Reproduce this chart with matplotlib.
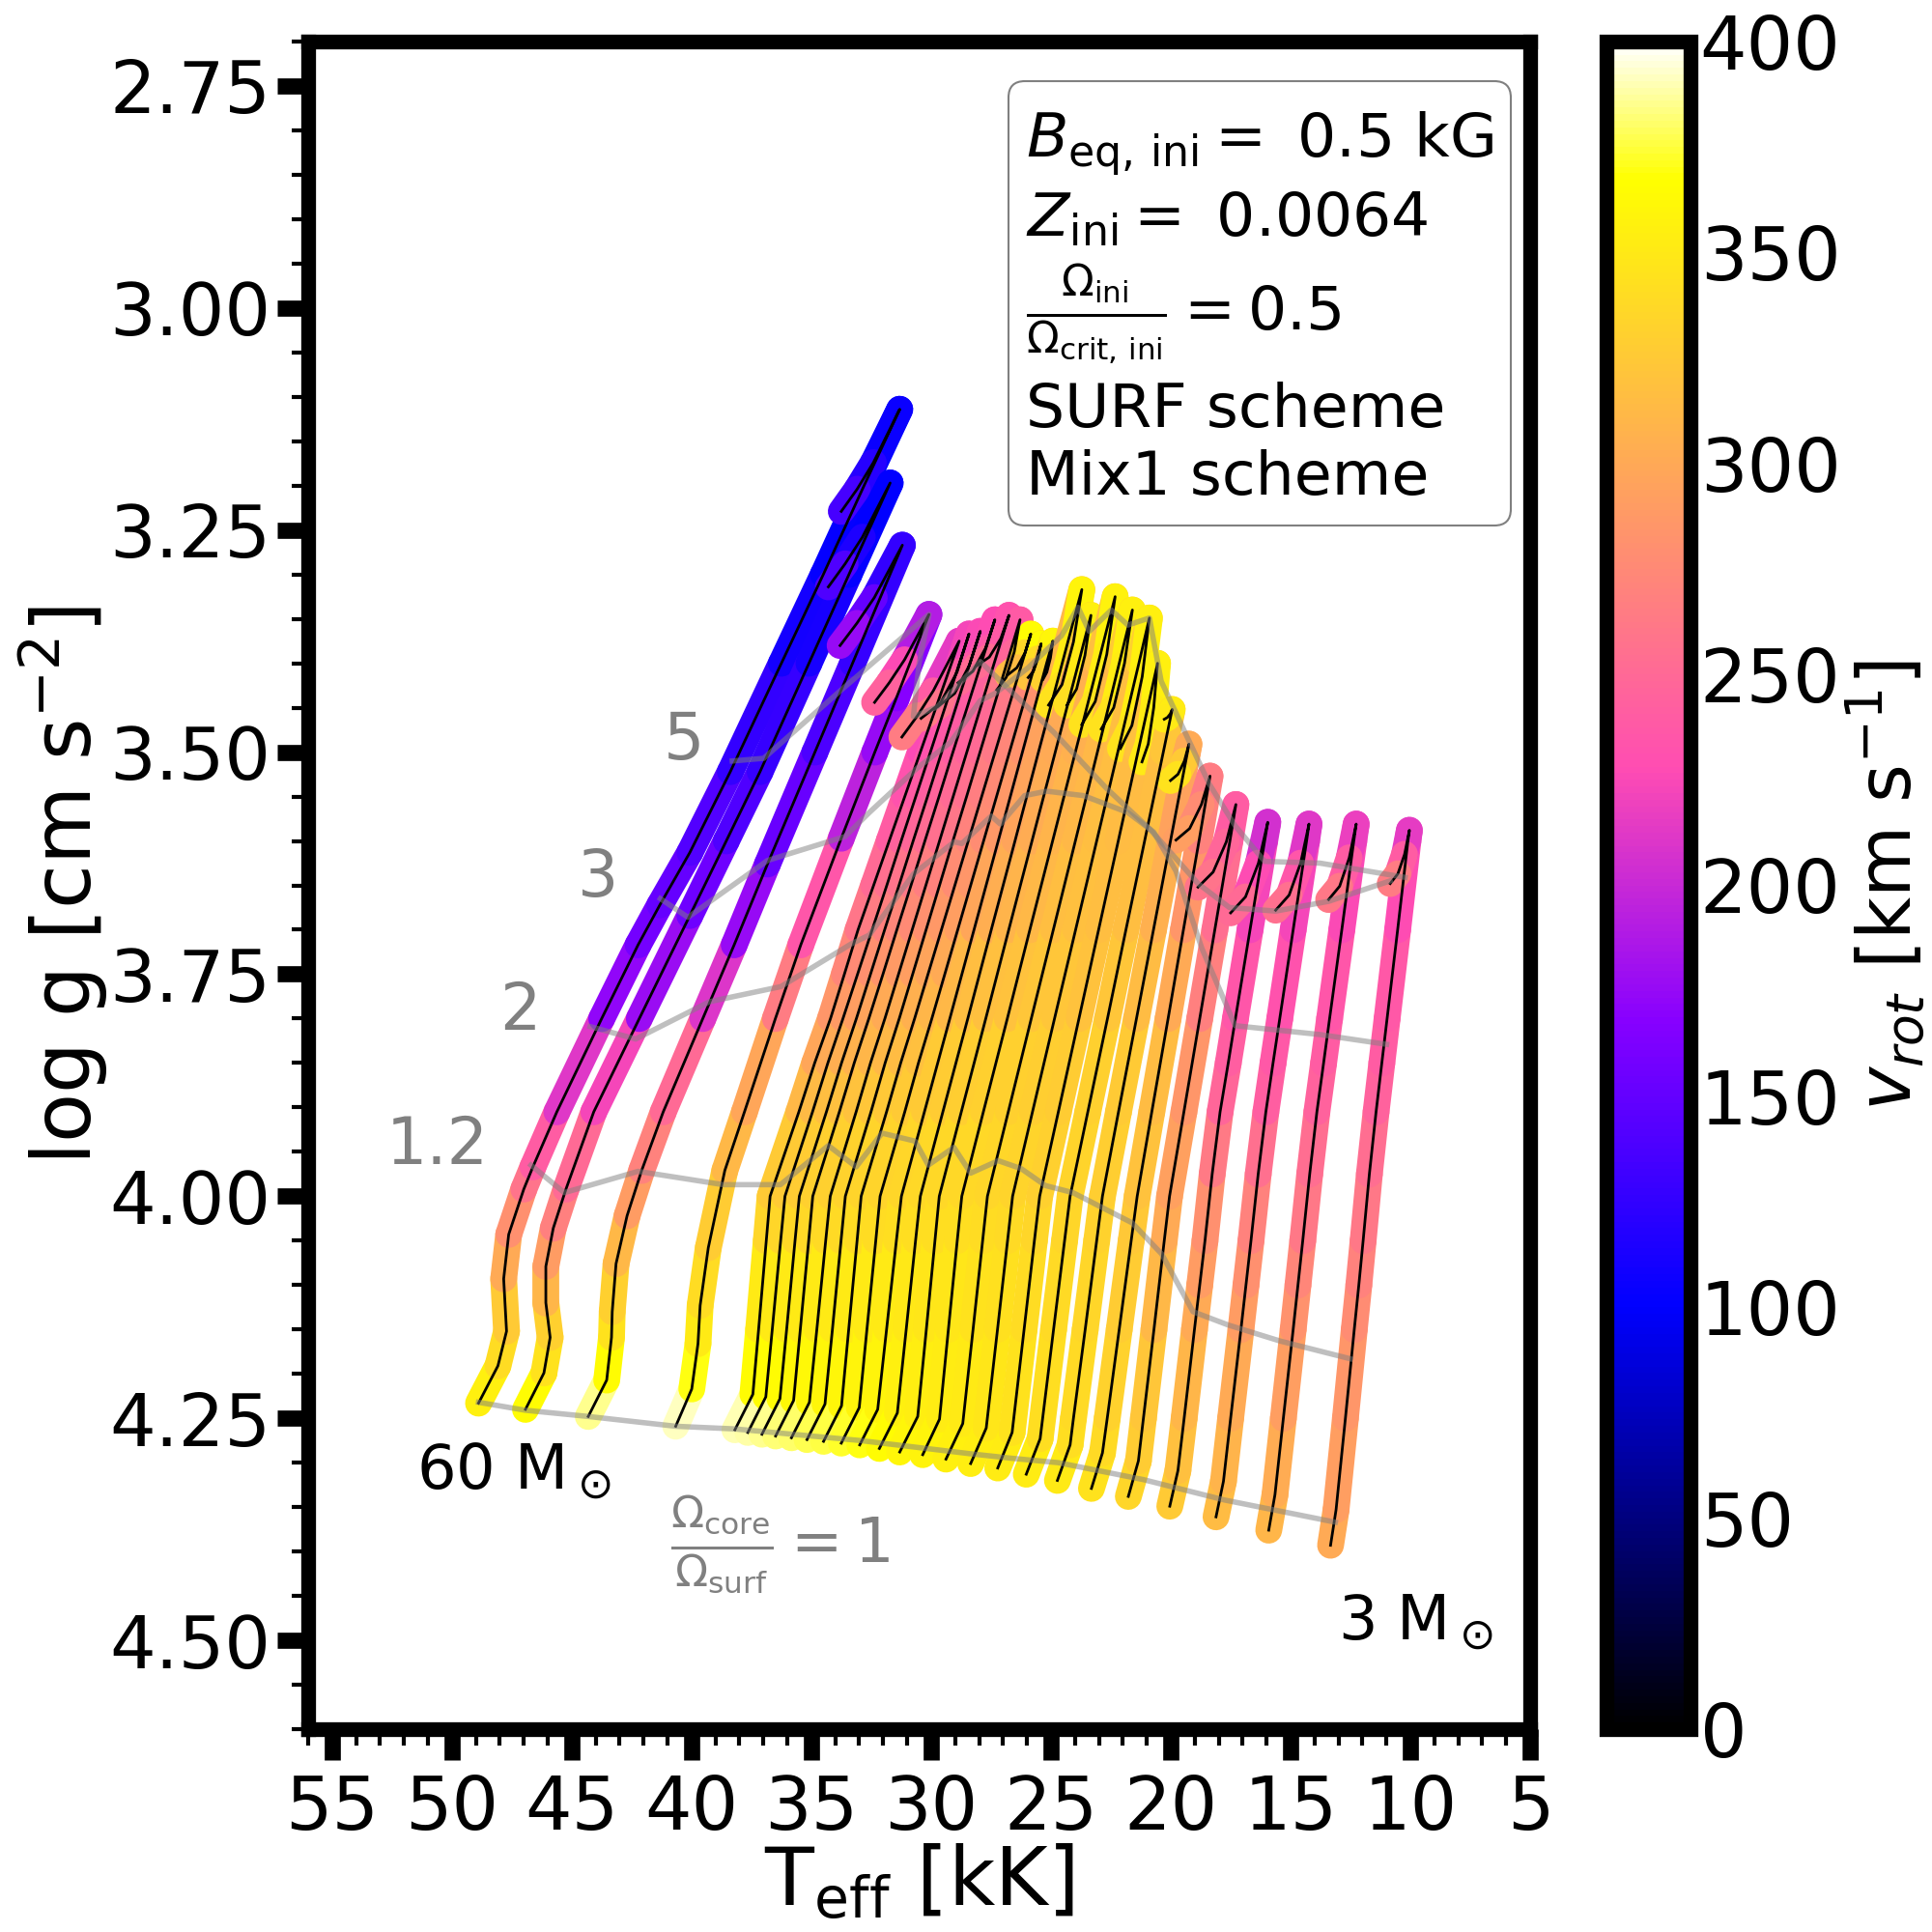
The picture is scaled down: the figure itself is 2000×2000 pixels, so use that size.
import matplotlib
matplotlib.use('Agg')
import matplotlib.pyplot as plt
from matplotlib.collections import LineCollection
from matplotlib.cm import ScalarMappable
from matplotlib.colors import Normalize
from matplotlib.patches import FancyBboxPatch
from matplotlib.ticker import MultipleLocator
import numpy as np

# evolutionary tracks, massive to light: Teff [kK], log g, v_rot [km/s]
# t1 - t4 were read point by point, the rest at fixed log g steps + hook
t1_T = [48.89, 48.08, 47.72, 47.84, 47.63, 47.00, 46.62, 45.62, 43.75, 42.23, 41.32, 40.07, 38.38, 36.25, 34.50, 32.80, 31.31, 32.41, 33.09, 33.75]
t1_g = [4.233, 4.191, 4.152, 4.093, 4.043, 3.992, 3.967, 3.905, 3.800, 3.717, 3.672, 3.613, 3.522, 3.400, 3.300, 3.200, 3.114, 3.174, 3.204, 3.229]
t1_v = [355, 340, 325, 300, 280, 258, 240, 212, 172, 158, 150, 142, 125, 110, 102, 100, 105, 120, 135, 150]
t2_T = [46.93, 46.16, 45.90, 46.08, 46.08, 45.77, 45.24, 44.08, 42.18, 40.07, 38.55, 37.14, 35.10, 33.43, 31.71, 32.87, 33.59, 34.29]
t2_g = [4.240, 4.199, 4.159, 4.120, 4.079, 4.036, 3.992, 3.905, 3.800, 3.684, 3.600, 3.522, 3.400, 3.300, 3.197, 3.258, 3.288, 3.314]
t2_v = [365, 345, 330, 310, 290, 268, 250, 222, 178, 155, 140, 128, 112, 102, 100, 115, 140, 165]
t3_T = [44.31, 43.54, 43.34, 43.31, 43.15, 42.69, 42.08, 41.18, 39.53, 38.22, 36.83, 34.85, 33.28, 31.20, 32.37, 33.10, 33.80]
t3_g = [4.248, 4.207, 4.159, 4.130, 4.076, 4.022, 3.971, 3.905, 3.800, 3.717, 3.626, 3.500, 3.400, 3.267, 3.326, 3.355, 3.380]
t3_v = [385, 365, 345, 330, 312, 290, 270, 250, 210, 175, 152, 138, 128, 125, 150, 175, 190]
t4_T = [40.66, 39.99, 39.73, 39.64, 39.30, 38.61, 37.79, 36.50, 35.44, 33.75, 32.35, 31.45, 30.09, 31.11, 31.75, 32.36]
t4_g = [4.259, 4.217, 4.166, 4.123, 4.058, 3.971, 3.905, 3.800, 3.717, 3.597, 3.500, 3.439, 3.345, 3.396, 3.422, 3.444]
t4_v = [392, 370, 350, 340, 328, 312, 298, 265, 235, 195, 175, 168, 190, 225, 245, 258]

t5_T = [38.19, 37.44, 37.20, 36.88, 36.72, 35.52, 34.86, 34.20, 33.62, 33.05, 32.40, 31.75, 31.10, 30.45, 29.15, 28.83, 29.91, 30.57, 31.22]
t5_g = [4.263, 4.223, 4.150, 4.050, 4.000, 3.905, 3.850, 3.800, 3.750, 3.700, 3.650, 3.600, 3.550, 3.500, 3.400, 3.375, 3.431, 3.459, 3.483]
t5_v = [390, 365, 350, 335, 325, 312, 298, 285, 272, 260, 250, 240, 232, 225, 222, 215, 240, 265, 290]
t6_T = [37.65, 36.90, 36.63, 36.28, 36.10, 34.95, 34.31, 33.68, 33.07, 32.46, 31.85, 31.25, 30.64, 30.03, 28.82, 28.42, 28.92, 29.62, 30.42]
t6_g = [4.266, 4.226, 4.150, 4.050, 4.000, 3.905, 3.850, 3.800, 3.750, 3.700, 3.650, 3.600, 3.550, 3.500, 3.400, 3.367, 3.410, 3.445, 3.462]
t6_v = [388, 365, 350, 335, 326, 314, 301, 288, 276, 265, 255, 245, 238, 232, 225, 222, 240, 265, 285]
t7_T = [37.06, 36.31, 36.03, 35.68, 35.50, 34.37, 33.74, 33.12, 32.53, 31.94, 31.34, 30.75, 30.15, 29.56, 28.38, 27.95, 28.40, 29.02, 29.73]
t7_g = [4.268, 4.228, 4.150, 4.050, 4.000, 3.905, 3.850, 3.800, 3.750, 3.700, 3.650, 3.600, 3.550, 3.500, 3.400, 3.364, 3.402, 3.434, 3.449]
t7_v = [385, 365, 350, 336, 328, 316, 304, 292, 280, 268, 258, 248, 242, 236, 228, 225, 238, 258, 275]
t8_T = [36.49, 35.74, 35.46, 35.11, 34.94, 33.83, 33.21, 32.60, 32.01, 31.43, 30.84, 30.26, 29.67, 29.09, 27.91, 27.34, 27.73, 28.26, 28.88]
t8_g = [4.270, 4.230, 4.150, 4.050, 4.000, 3.905, 3.850, 3.800, 3.750, 3.700, 3.650, 3.600, 3.550, 3.500, 3.400, 3.351, 3.383, 3.409, 3.422]
t8_v = [382, 362, 350, 337, 330, 318, 307, 296, 284, 272, 262, 252, 246, 240, 232, 228, 235, 250, 265]
t9_T = [35.83, 35.08, 34.77, 34.40, 34.21, 33.13, 32.53, 31.93, 31.36, 30.79, 30.22, 29.65, 29.08, 28.51, 27.37, 26.75, 27.09, 27.57, 28.11]
t9_g = [4.272, 4.232, 4.150, 4.050, 4.000, 3.905, 3.850, 3.800, 3.750, 3.700, 3.650, 3.600, 3.550, 3.500, 3.400, 3.346, 3.372, 3.393, 3.403]
t9_v = [380, 362, 350, 338, 331, 320, 310, 300, 288, 276, 266, 256, 250, 245, 236, 232, 238, 252, 265]
t10_T = [35.18, 34.43, 34.12, 33.76, 33.58, 32.51, 31.92, 31.33, 30.77, 30.21, 29.65, 29.09, 28.52, 27.96, 26.84, 26.29, 26.53, 26.87, 27.26]
t10_g = [4.274, 4.234, 4.150, 4.050, 4.000, 3.905, 3.850, 3.800, 3.750, 3.700, 3.650, 3.600, 3.550, 3.500, 3.400, 3.351, 3.387, 3.416, 3.430]
t10_v = [378, 360, 350, 338, 332, 322, 312, 302, 291, 280, 270, 260, 255, 250, 242, 238, 248, 262, 275]
t11_T = [34.49, 33.74, 33.44, 33.09, 32.92, 31.86, 31.27, 30.69, 30.13, 29.57, 29.01, 28.45, 27.89, 27.33, 26.21, 25.84, 26.08, 26.42, 26.80]
t11_g = [4.276, 4.236, 4.150, 4.050, 4.000, 3.905, 3.850, 3.800, 3.750, 3.700, 3.650, 3.600, 3.550, 3.500, 3.400, 3.367, 3.388, 3.405, 3.413]
t11_v = [375, 360, 350, 340, 333, 324, 315, 306, 296, 286, 278, 270, 266, 262, 285, 365, 335, 315, 300]
t12_T = [33.75, 33.00, 32.68, 32.31, 32.13, 31.10, 30.53, 29.97, 29.43, 28.89, 28.35, 27.81, 27.27, 26.73, 25.65, 25.41, 25.55, 25.73, 25.95]
t12_g = [4.278, 4.238, 4.150, 4.050, 4.000, 3.905, 3.850, 3.800, 3.750, 3.700, 3.650, 3.600, 3.550, 3.500, 3.400, 3.378, 3.395, 3.409, 3.416]
t12_v = [372, 358, 350, 340, 334, 325, 318, 310, 301, 292, 285, 278, 275, 272, 300, 365, 340, 320, 310]
t13_T = [32.98, 32.23, 31.86, 31.45, 31.24, 30.28, 29.22, 28.21, 27.20, 26.19, 25.18, 24.92, 25.02, 25.17, 25.33]
t13_g = [4.280, 4.240, 4.150, 4.050, 4.000, 3.905, 3.800, 3.700, 3.600, 3.500, 3.400, 3.375, 3.394, 3.410, 3.418]
t13_v = [370, 358, 350, 341, 335, 326, 312, 298, 286, 282, 310, 360, 345, 330, 320]
t14_T = [32.16, 31.41, 31.04, 30.65, 30.45, 29.51, 28.47, 27.49, 26.50, 25.52, 24.53, 23.71, 24.06, 24.54, 25.10]
t14_g = [4.284, 4.244, 4.150, 4.050, 4.000, 3.905, 3.800, 3.700, 3.600, 3.500, 3.400, 3.317, 3.376, 3.424, 3.447]
t14_v = [365, 356, 349, 342, 336, 328, 316, 304, 296, 294, 310, 358, 352, 345, 340]
t15_T = [31.31, 30.56, 30.20, 29.84, 29.66, 28.74, 27.72, 26.76, 25.79, 24.82, 23.85, 23.33, 23.58, 23.93, 24.33]
t15_g = [4.288, 4.248, 4.150, 4.050, 4.000, 3.905, 3.800, 3.700, 3.600, 3.500, 3.400, 3.346, 3.391, 3.429, 3.447]
t15_v = [360, 354, 348, 342, 336, 329, 318, 308, 302, 300, 315, 355, 350, 342, 335]
t16_T = [30.35, 29.65, 29.28, 28.91, 28.72, 27.82, 26.82, 25.88, 24.93, 23.98, 23.03, 22.32, 22.67, 23.15, 23.71]
t16_g = [4.291, 4.251, 4.150, 4.050, 4.000, 3.905, 3.800, 3.700, 3.600, 3.500, 3.400, 3.325, 3.390, 3.443, 3.469]
t16_v = [358, 352, 347, 341, 336, 330, 320, 312, 308, 306, 318, 357, 352, 345, 340]
t17_T = [29.38, 28.68, 28.25, 27.85, 27.65, 26.78, 25.82, 24.90, 23.98, 23.06, 22.15, 21.60, 21.93, 22.38, 22.90]
t17_g = [4.296, 4.256, 4.150, 4.050, 4.000, 3.905, 3.800, 3.700, 3.600, 3.500, 3.400, 3.340, 3.400, 3.450, 3.474]
t17_v = [356, 350, 345, 340, 335, 330, 322, 316, 312, 312, 325, 356, 352, 345, 340]
t18_T = [28.35, 27.70, 27.23, 26.81, 26.60, 25.77, 24.85, 23.97, 23.09, 22.21, 21.33, 20.89, 21.19, 21.62, 22.10]
t18_g = [4.301, 4.261, 4.150, 4.050, 4.000, 3.905, 3.800, 3.700, 3.600, 3.500, 3.400, 3.349, 3.415, 3.470, 3.496]
t18_v = [354, 348, 343, 338, 334, 329, 322, 318, 316, 316, 330, 355, 352, 345, 340]
t19_T = [27.22, 26.62, 26.12, 25.69, 25.47, 24.69, 23.83, 23.01, 22.19, 21.37, 20.55, 20.71, 20.94, 21.20]
t19_g = [4.306, 4.266, 4.150, 4.050, 4.000, 3.905, 3.800, 3.700, 3.600, 3.500, 3.400, 3.450, 3.491, 3.511]
t19_v = [352, 345, 340, 335, 331, 327, 320, 316, 315, 318, 355, 352, 350, 345]
t20_T = [26.03, 25.45, 24.89, 24.43, 24.20, 23.46, 22.64, 21.87, 21.09, 20.31, 19.94, 20.02, 20.14, 20.27]
t20_g = [4.313, 4.273, 4.150, 4.050, 4.000, 3.905, 3.800, 3.700, 3.600, 3.500, 3.452, 3.457, 3.461, 3.463]
t20_v = [352, 342, 338, 335, 333, 330, 322, 316, 316, 322, 352, 352, 350, 350]
t21_T = [24.73, 24.20, 24.06, 23.57, 23.09, 22.85, 22.18, 21.43, 20.72, 20.01, 19.30, 19.24, 19.43, 19.70, 20.01]
t21_g = [4.320, 4.280, 4.250, 4.150, 4.050, 4.000, 3.905, 3.800, 3.700, 3.600, 3.500, 3.491, 3.510, 3.525, 3.532]
t21_v = [350, 342, 338, 335, 332, 329, 325, 315, 305, 295, 295, 300, 325, 345, 352]
t22_T = [23.31, 22.85, 22.65, 22.15, 21.65, 21.40, 20.79, 20.11, 19.47, 18.82, 18.36, 18.72, 19.21, 19.78]
t22_g = [4.329, 4.289, 4.250, 4.150, 4.050, 4.000, 3.905, 3.800, 3.700, 3.600, 3.527, 3.559, 3.586, 3.599]
t22_v = [345, 338, 332, 328, 324, 320, 315, 300, 285, 270, 265, 278, 292, 305]
t23_T = [21.77, 21.35, 21.14, 20.70, 20.27, 20.05, 19.45, 18.79, 18.16, 17.53, 17.28, 17.68, 18.23, 18.86]
t23_g = [4.338, 4.298, 4.250, 4.150, 4.050, 4.000, 3.905, 3.800, 3.700, 3.600, 3.559, 3.601, 3.635, 3.652]
t23_v = [335, 328, 322, 312, 300, 293, 285, 268, 254, 242, 240, 248, 258, 265]
t24_T = [20.04, 19.70, 19.44, 19.01, 18.79, 18.57, 18.27, 17.94, 17.60, 17.30, 16.69, 16.08, 15.95, 16.34, 16.88, 17.50]
t24_g = [4.349, 4.309, 4.250, 4.150, 4.100, 4.050, 3.975, 3.905, 3.850, 3.800, 3.700, 3.600, 3.579, 3.625, 3.663, 3.681]
t24_v = [325, 318, 310, 300, 290, 280, 264, 248, 241, 235, 222, 208, 205, 228, 250, 265]
t25_T = [18.11, 17.80, 17.50, 17.07, 16.86, 16.65, 16.35, 16.03, 15.73, 15.45, 14.89, 14.33, 14.23, 14.58, 15.06, 15.62]
t25_g = [4.361, 4.321, 4.250, 4.150, 4.100, 4.050, 3.975, 3.905, 3.850, 3.800, 3.700, 3.600, 3.581, 3.625, 3.661, 3.678]
t25_v = [315, 308, 300, 290, 280, 270, 256, 242, 237, 232, 222, 212, 212, 235, 255, 268]
t26_T = [15.91, 15.65, 15.30, 14.89, 14.69, 14.49, 14.20, 13.90, 13.62, 13.37, 12.86, 12.36, 12.26, 12.55, 12.95, 13.41]
t26_g = [4.376, 4.336, 4.250, 4.150, 4.100, 4.050, 3.975, 3.905, 3.850, 3.800, 3.700, 3.600, 3.581, 3.619, 3.651, 3.666]
t26_v = [310, 302, 292, 282, 272, 262, 254, 245, 240, 235, 225, 218, 218, 240, 262, 278]
t27_T = [13.33, 13.10, 12.71, 12.34, 12.15, 11.97, 11.71, 11.43, 11.19, 10.97, 10.53, 10.10, 10.04, 10.24, 10.52, 10.84]
t27_g = [4.393, 4.353, 4.250, 4.150, 4.100, 4.050, 3.975, 3.905, 3.850, 3.800, 3.700, 3.600, 3.588, 3.615, 3.637, 3.648]
t27_v = [300, 292, 285, 278, 270, 262, 254, 245, 240, 236, 228, 216, 215, 240, 265, 288]

tracks = [(t1_T, t1_g, t1_v), (t2_T, t2_g, t2_v), (t3_T, t3_g, t3_v), (t4_T, t4_g, t4_v),
          (t5_T, t5_g, t5_v), (t6_T, t6_g, t6_v), (t7_T, t7_g, t7_v), (t8_T, t8_g, t8_v),
          (t9_T, t9_g, t9_v), (t10_T, t10_g, t10_v), (t11_T, t11_g, t11_v), (t12_T, t12_g, t12_v),
          (t13_T, t13_g, t13_v), (t14_T, t14_g, t14_v), (t15_T, t15_g, t15_v), (t16_T, t16_g, t16_v),
          (t17_T, t17_g, t17_v), (t18_T, t18_g, t18_v), (t19_T, t19_g, t19_v), (t20_T, t20_g, t20_v),
          (t21_T, t21_g, t21_v), (t22_T, t22_g, t22_v), (t23_T, t23_g, t23_v), (t24_T, t24_g, t24_v),
          (t25_T, t25_g, t25_v), (t26_T, t26_g, t26_v), (t27_T, t27_g, t27_v)]

# lines of constant Omega_core / Omega_surf
ratio1_T = [48.89, 46.93, 44.30, 40.66, 38.19, 32.98, 28.35, 26.65, 24.69, 21.15, 17.76, 13.13]
ratio1_g = [4.232, 4.241, 4.248, 4.259, 4.262, 4.275, 4.290, 4.295, 4.300, 4.319, 4.342, 4.367]
ratio12_T = [46.70, 45.31, 42.23, 38.68, 36.29, 34.29, 33.13, 32.05, 30.67, 30.12, 29.05, 28.35, 27.20, 26.24, 25.23, 24.08, 21.61, 20.38, 19.07, 17.60, 15.44, 12.51]
ratio12_g = [3.965, 3.996, 3.972, 3.987, 3.987, 3.943, 3.967, 3.929, 3.938, 3.965, 3.945, 3.974, 3.960, 3.969, 3.988, 3.996, 4.030, 4.065, 4.130, 4.145, 4.163, 4.183]
ratio2_T = [44.23, 42.33, 39.25, 36.27, 33.34, 32.58, 30.73, 29.03, 28.72, 27.49, 27.11, 26.10, 25.18, 23.64, 21.79, 20.71, 19.78, 18.70, 17.31, 13.77, 10.99]
ratio2_g = [3.809, 3.823, 3.781, 3.764, 3.716, 3.706, 3.637, 3.601, 3.603, 3.572, 3.581, 3.549, 3.544, 3.549, 3.568, 3.590, 3.634, 3.721, 3.808, 3.818, 3.829]
ratio3_T = [41.30, 40.15, 36.83, 33.59, 32.58, 30.58, 29.19, 27.95, 27.34, 25.95, 24.56, 23.87, 23.40, 22.48, 21.79, 20.89, 20.40, 19.47, 18.39, 17.31, 16.08, 13.77, 10.22]
ratio3_g = [3.665, 3.686, 3.622, 3.595, 3.568, 3.518, 3.489, 3.442, 3.434, 3.405, 3.369, 3.337, 3.364, 3.340, 3.357, 3.349, 3.420, 3.474, 3.536, 3.583, 3.623, 3.625, 3.641]
ratio5_T = [38.30, 36.99, 33.75, 30.09, 30.51, 30.74, 29.74, 28.04, 27.95, 24.87, 22.71, 20.86, 18.86, 17.55, 15.62, 13.41, 10.84]
ratio5_g = [3.510, 3.507, 3.430, 3.345, 3.401, 3.460, 3.449, 3.401, 3.398, 3.478, 3.540, 3.587, 3.648, 3.675, 3.679, 3.668, 3.645]

x_ticks = [55, 50, 45, 40, 35, 30, 25, 20, 15, 10, 5]
y_ticks = [2.75, 3.00, 3.25, 3.50, 3.75, 4.00, 4.25, 4.50]
cbar_ticks = [0, 50, 100, 150, 200, 250, 300, 350, 400]

plt.rcParams['font.family'] = 'DejaVu Sans'
plt.rcParams['mathtext.default'] = 'regular'

fig = plt.figure(figsize=(20, 20), dpi=100)
ax = fig.add_axes([319 / 2000, 210 / 2000, 1265 / 2000, 1747 / 2000])

norm = Normalize(0, 400)
for T, g, v in tracks:
    pts = np.column_stack([T, g])
    segs = np.stack([pts[:-1], pts[1:]], axis=1)
    lc = LineCollection(segs, cmap='gnuplot2', norm=norm, linewidths=20, capstyle='round', zorder=2)
    lc.set_array(np.array(v[:-1]))
    ax.add_collection(lc)
for T, g, v in tracks:
    ax.plot(T, g, color='k', lw=2, zorder=3)

for T, g in [(ratio1_T, ratio1_g), (ratio12_T, ratio12_g), (ratio2_T, ratio2_g), (ratio3_T, ratio3_g), (ratio5_T, ratio5_g)]:
    ax.plot(T, g, color='gray', alpha=0.5, lw=4, zorder=4)

ax.set_xlim(56, 5)
ax.set_ylim(4.6, 2.7)
ax.set_xticks(x_ticks)
ax.set_yticks(y_ticks)
ax.set_yticklabels(['%.2f' % t for t in y_ticks])
ax.xaxis.set_minor_locator(MultipleLocator(1))
ax.yaxis.set_minor_locator(MultipleLocator(0.05))
ax.tick_params(which='major', width=12, length=23, labelsize=55)
ax.tick_params(axis='y', which='major', pad=5, labelsize=54)
ax.tick_params(axis='x', which='major', pad=10)
ax.tick_params(which='minor', width=3, length=12)
for s in ax.spines.values():
    s.set_linewidth(11)
ax.set_xlabel(r'$T_{eff}$ [kK]', fontsize=60, labelpad=-2)
ax.set_ylabel(r'log g [cm s$^{-2}$]', fontsize=60, labelpad=-1)

gr = 'gray'
ax.text(40.33, 3.487, '5', color=gr, fontsize=48, va='center', ha='center')
ax.text(43.92, 3.642, '3', color=gr, fontsize=48, va='center', ha='center')
ax.text(47.17, 3.792, '2', color=gr, fontsize=48, va='center', ha='center')
ax.text(50.60, 3.943, '1.2', color=gr, fontsize=48, va='center', ha='center')
ax.text(51.50, 4.31, r'60 M$_\odot$', color='k', fontsize=46, va='center', ha='left')
ax.text(13.03, 4.48, r'3 M$_\odot$', color='k', fontsize=46, va='center', ha='left')
ax.text(40.87, 4.392, r'$\frac{\Omega_{core}}{\Omega_{surf}} = 1$', color=gr, fontsize=46, va='center', ha='left')

# info box, separate lines so the uneven spacing can be kept
box = FancyBboxPatch((10.44, 14.56), 5.20, 4.60, boxstyle='round,pad=0,rounding_size=0.17',
                     transform=fig.dpi_scale_trans, fc='white', ec='gray', lw=1.5, zorder=5)
ax.add_patch(box)
box_lines = [r'$\mathit{B}_{eq,\/ini} = $ 0.5 kG', r'$\mathit{Z}_{ini} = $ 0.0064',
             r'$\frac{\Omega_{ini}}{\Omega_{crit,\/ini}} = 0.5$', 'SURF scheme', 'Mix1 scheme']
box_y = [0.9313, 0.8844, 0.8289, 0.7716, 0.7315]
for line, y in zip(box_lines, box_y):
    ax.text(0.5875, y, line, transform=ax.transAxes, fontsize=45.5, va='baseline', ha='left', zorder=6)

cax = fig.add_axes([1663 / 2000, 210 / 2000, 87 / 2000, 1747 / 2000])
sm = ScalarMappable(norm=norm, cmap='gnuplot2')
cb = fig.colorbar(sm, cax=cax)
cb.set_ticks(cbar_ticks)
cb.outline.set_linewidth(11)
cax.tick_params(which='major', width=0, length=0, labelsize=55, pad=7)
cb.set_label(r'$\mathit{v}_{\mathit{rot}}$ [km s$^{-1}$]', fontsize=55, labelpad=2)

fig.savefig('out.png', dpi=100)
